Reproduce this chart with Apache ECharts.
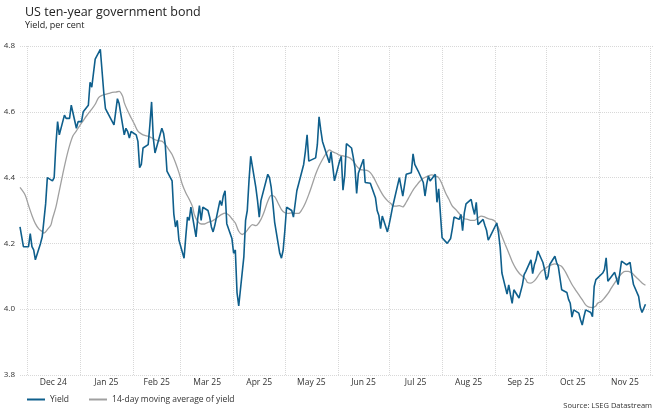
<!DOCTYPE html>
<html lang="en">
<head>
<meta charset="UTF-8">
<title>US ten-year government bond</title>
<script src="https://cdn.jsdelivr.net/npm/echarts@6/dist/echarts.min.js"></script>
<style>
  html, body { margin: 0; padding: 0; background: #fff; }
  #main { width: 660px; height: 413px; }
</style>
</head>
<body>
<div id="main"></div>
<script>
// daily yield, per cent
var yieldDates = [
  '2024-11-27','2024-11-29',
  '2024-12-02','2024-12-03','2024-12-04','2024-12-05','2024-12-06','2024-12-09','2024-12-10','2024-12-11','2024-12-12','2024-12-13',
  '2024-12-16','2024-12-17','2024-12-18','2024-12-19','2024-12-20','2024-12-23','2024-12-24','2024-12-26','2024-12-27','2024-12-30','2024-12-31',
  '2025-01-02','2025-01-03','2025-01-06','2025-01-07','2025-01-08','2025-01-10','2025-01-13','2025-01-14','2025-01-15','2025-01-16','2025-01-17',
  '2025-01-21','2025-01-22','2025-01-23','2025-01-24','2025-01-27','2025-01-28','2025-01-29','2025-01-30','2025-01-31',
  '2025-02-03','2025-02-04','2025-02-05','2025-02-06','2025-02-07','2025-02-10','2025-02-11','2025-02-12','2025-02-13','2025-02-14',
  '2025-02-18','2025-02-19','2025-02-20','2025-02-21','2025-02-24','2025-02-25','2025-02-26','2025-02-27','2025-02-28',
  '2025-03-03','2025-03-04','2025-03-05','2025-03-06','2025-03-07','2025-03-10','2025-03-11','2025-03-12','2025-03-13','2025-03-14',
  '2025-03-17','2025-03-18','2025-03-19','2025-03-20','2025-03-21','2025-03-24','2025-03-25','2025-03-26','2025-03-27','2025-03-28','2025-03-31',
  '2025-04-01','2025-04-02','2025-04-03','2025-04-04','2025-04-07','2025-04-08','2025-04-09','2025-04-10','2025-04-11',
  '2025-04-14','2025-04-15','2025-04-16','2025-04-17','2025-04-21','2025-04-22','2025-04-23','2025-04-24','2025-04-25',
  '2025-04-28','2025-04-29','2025-04-30','2025-05-01','2025-05-02','2025-05-05','2025-05-06','2025-05-07','2025-05-08','2025-05-09',
  '2025-05-12','2025-05-13','2025-05-14','2025-05-15','2025-05-16','2025-05-19','2025-05-20','2025-05-21','2025-05-22','2025-05-23',
  '2025-05-27','2025-05-28','2025-05-29','2025-05-30','2025-06-02','2025-06-03','2025-06-04','2025-06-05','2025-06-06',
  '2025-06-09','2025-06-10','2025-06-11','2025-06-12','2025-06-13','2025-06-16','2025-06-17','2025-06-18','2025-06-20',
  '2025-06-23','2025-06-24','2025-06-25','2025-06-26','2025-06-27','2025-06-30','2025-07-01','2025-07-02','2025-07-03',
  '2025-07-07','2025-07-08','2025-07-09','2025-07-10','2025-07-11','2025-07-14','2025-07-15','2025-07-16','2025-07-17','2025-07-18',
  '2025-07-21','2025-07-22','2025-07-23','2025-07-24','2025-07-25','2025-07-28','2025-07-29','2025-07-30','2025-07-31',
  '2025-08-01','2025-08-04','2025-08-05','2025-08-06','2025-08-07','2025-08-08','2025-08-11','2025-08-12','2025-08-13','2025-08-14','2025-08-15',
  '2025-08-18','2025-08-19','2025-08-20','2025-08-21','2025-08-22','2025-08-25','2025-08-26','2025-08-27','2025-08-28','2025-08-29',
  '2025-09-02','2025-09-03','2025-09-04','2025-09-05','2025-09-08','2025-09-09','2025-09-10','2025-09-11','2025-09-12',
  '2025-09-15','2025-09-16','2025-09-17','2025-09-18','2025-09-19','2025-09-22','2025-09-23','2025-09-24','2025-09-25','2025-09-26',
  '2025-09-29','2025-09-30','2025-10-01','2025-10-02','2025-10-03','2025-10-06','2025-10-07','2025-10-08','2025-10-09','2025-10-10',
  '2025-10-13','2025-10-14','2025-10-15','2025-10-16','2025-10-17','2025-10-20','2025-10-21','2025-10-22','2025-10-23','2025-10-24',
  '2025-10-27','2025-10-28','2025-10-29','2025-10-30','2025-10-31','2025-11-03','2025-11-04','2025-11-05','2025-11-06','2025-11-07',
  '2025-11-10','2025-11-11','2025-11-12','2025-11-13','2025-11-14','2025-11-17','2025-11-18','2025-11-19','2025-11-20','2025-11-21',
  '2025-11-24','2025-11-25','2025-11-26','2025-11-27','2025-11-28'
];
var yieldValues = [
  4.25, 4.19,
  4.19, 4.23, 4.19, 4.18, 4.15, 4.20, 4.22, 4.27, 4.32, 4.40,
  4.39, 4.40, 4.50, 4.57, 4.53, 4.59, 4.58, 4.58, 4.62, 4.55, 4.57,
  4.57, 4.60, 4.62, 4.69, 4.675, 4.76, 4.79, 4.79, 4.66, 4.61, 4.61,
  4.56, 4.60, 4.64, 4.625, 4.53, 4.55, 4.54, 4.52, 4.54,
  4.53, 4.51, 4.43, 4.44, 4.49, 4.50, 4.56, 4.63, 4.52, 4.475,
  4.55, 4.535, 4.50, 4.42, 4.39, 4.29, 4.25, 4.27, 4.21,
  4.155, 4.22, 4.28, 4.27, 4.31, 4.22, 4.275, 4.315, 4.27, 4.31,
  4.30, 4.28, 4.25, 4.235, 4.255, 4.33, 4.315, 4.345, 4.36, 4.26, 4.215,
  4.17, 4.18, 4.05, 4.01, 4.16, 4.27, 4.30, 4.39, 4.465,
  4.37, 4.33, 4.28, 4.33, 4.41, 4.40, 4.37, 4.32, 4.265,
  4.17, 4.155, 4.18, 4.24, 4.31, 4.30, 4.28, 4.275, 4.36, 4.38,
  4.44, 4.48, 4.53, 4.45, 4.445, 4.46, 4.50, 4.585, 4.545, 4.51,
  4.445, 4.478, 4.435, 4.39, 4.45, 4.465, 4.362, 4.405, 4.503,
  4.49, 4.462, 4.43, 4.352, 4.413, 4.456, 4.385, 4.385, 4.383,
  4.339, 4.30, 4.285, 4.245, 4.283, 4.235, 4.257, 4.283, 4.31,
  4.40, 4.405, 4.344, 4.34, 4.41, 4.415, 4.472, 4.44, 4.443, 4.42,
  4.385, 4.344, 4.38, 4.405, 4.39, 4.41, 4.325, 4.366, 4.36,
  4.217, 4.20, 4.20, 4.215, 4.245, 4.28, 4.273, 4.288, 4.239, 4.293, 4.32,
  4.334, 4.308, 4.288, 4.325, 4.257, 4.273, 4.255, 4.24, 4.21, 4.22,
  4.262, 4.232, 4.186, 4.11, 4.046, 4.074, 4.044, 4.018, 4.059,
  4.034, 4.034, 4.074, 4.105, 4.115, 4.15, 4.108, 4.135, 4.15, 4.177,
  4.142, 4.12, 4.09, 4.10, 4.136, 4.161, 4.142, 4.13, 4.136, 4.059,
  4.051, 4.03, 4.018, 3.976, 3.998, 3.988, 3.968, 3.952, 3.977, 3.998,
  3.99, 3.977, 4.069, 4.09, 4.095, 4.11, 4.12, 4.156, 4.085, 4.09,
  4.112, 4.112, 4.075, 4.11, 4.146, 4.135, 4.13, 4.142, 4.105, 4.075,
  4.039, 4.005, 3.99, 3.99, 4.015
];

// 14-day moving average of yield
var maDates = [
  '2024-11-27','2024-11-30','2024-12-02','2024-12-04','2024-12-06','2024-12-08','2024-12-10','2024-12-11','2024-12-13','2024-12-15',
  '2024-12-16','2024-12-18','2024-12-20','2024-12-22','2024-12-24','2024-12-26','2024-12-28','2024-12-30','2025-01-01','2025-01-03',
  '2025-01-05','2025-01-08','2025-01-10','2025-01-12','2025-01-14','2025-01-16','2025-01-18','2025-01-20','2025-01-22','2025-01-24',
  '2025-01-26','2025-01-27','2025-01-29','2025-01-31','2025-02-02','2025-02-04','2025-02-06','2025-02-08','2025-02-10','2025-02-12',
  '2025-02-14','2025-02-16','2025-02-18','2025-02-20','2025-02-22','2025-02-24','2025-02-26','2025-02-28','2025-03-02','2025-03-04',
  '2025-03-06','2025-03-08','2025-03-09','2025-03-11','2025-03-13','2025-03-15','2025-03-17','2025-03-19','2025-03-21','2025-03-23',
  '2025-03-25','2025-03-27','2025-03-29','2025-03-31','2025-04-02','2025-04-04','2025-04-06','2025-04-08','2025-04-10','2025-04-12',
  '2025-04-14','2025-04-15','2025-04-17','2025-04-19','2025-04-21','2025-04-23','2025-04-25','2025-04-27','2025-04-29','2025-05-01',
  '2025-05-03','2025-05-05','2025-05-07','2025-05-09','2025-05-11','2025-05-13','2025-05-15','2025-05-17','2025-05-19','2025-05-21',
  '2025-05-23','2025-05-25','2025-05-27','2025-05-29','2025-05-31','2025-06-02','2025-06-04','2025-06-06','2025-06-08','2025-06-10',
  '2025-06-12','2025-06-14','2025-06-16','2025-06-18','2025-06-20','2025-06-22','2025-06-24','2025-06-26','2025-06-28','2025-06-30',
  '2025-07-02','2025-07-03','2025-07-05','2025-07-07','2025-07-09','2025-07-11','2025-07-13','2025-07-15','2025-07-17','2025-07-19',
  '2025-07-21','2025-07-23','2025-07-26','2025-07-28','2025-07-30','2025-08-01','2025-08-03','2025-08-05','2025-08-07','2025-08-09',
  '2025-08-11','2025-08-13','2025-08-14','2025-08-16','2025-08-18','2025-08-20','2025-08-22','2025-08-24','2025-08-26','2025-08-28',
  '2025-08-30','2025-09-01','2025-09-03','2025-09-05','2025-09-07','2025-09-09','2025-09-11','2025-09-13','2025-09-15','2025-09-17',
  '2025-09-19','2025-09-20','2025-09-22','2025-09-24','2025-09-26','2025-09-28','2025-09-30','2025-10-02','2025-10-04','2025-10-06',
  '2025-10-08','2025-10-10','2025-10-12','2025-10-14','2025-10-16','2025-10-18','2025-10-20','2025-10-22','2025-10-24','2025-10-26',
  '2025-10-28','2025-10-30','2025-10-31','2025-11-02','2025-11-04','2025-11-06','2025-11-08','2025-11-10','2025-11-12','2025-11-14',
  '2025-11-16','2025-11-18','2025-11-20','2025-11-22','2025-11-24','2025-11-26','2025-11-28'
];
var maValues = [
  4.37, 4.347, 4.315, 4.285, 4.26, 4.244, 4.236, 4.231, 4.242, 4.255,
  4.275, 4.31, 4.36, 4.41, 4.457, 4.497, 4.527, 4.542, 4.558, 4.573,
  4.588, 4.608, 4.623, 4.643, 4.65, 4.653, 4.656, 4.659, 4.66, 4.662,
  4.648, 4.628, 4.603, 4.582, 4.562, 4.541, 4.533, 4.528, 4.526, 4.521,
  4.515, 4.512, 4.511, 4.501, 4.486, 4.47, 4.445, 4.415, 4.379, 4.354,
  4.334, 4.311, 4.288, 4.267, 4.259, 4.259, 4.264, 4.267, 4.273, 4.281,
  4.288, 4.292, 4.287, 4.275, 4.262, 4.237, 4.227, 4.234, 4.247, 4.257,
  4.254, 4.257, 4.273, 4.298, 4.328, 4.346, 4.342, 4.323, 4.303, 4.293,
  4.291, 4.293, 4.291, 4.291, 4.303, 4.323, 4.349, 4.379, 4.41, 4.435,
  4.455, 4.472, 4.484, 4.478, 4.474, 4.468, 4.466, 4.464, 4.46, 4.45,
  4.435, 4.425, 4.423, 4.422, 4.415, 4.40, 4.379, 4.359, 4.342, 4.33,
  4.321, 4.315, 4.313, 4.315, 4.311, 4.325, 4.344, 4.362, 4.376, 4.389,
  4.398, 4.403, 4.408, 4.405, 4.40, 4.38, 4.354, 4.334, 4.313, 4.303,
  4.291, 4.28, 4.275, 4.273, 4.27, 4.27, 4.278, 4.283, 4.28, 4.275,
  4.273, 4.267, 4.247, 4.222, 4.196, 4.171, 4.145, 4.125, 4.11, 4.10,
  4.09, 4.081, 4.079, 4.086, 4.10, 4.115, 4.122, 4.13, 4.135, 4.138,
  4.135, 4.13, 4.115, 4.095, 4.075, 4.059, 4.044, 4.029, 4.013, 4.006,
  4.005, 4.01, 4.018, 4.023, 4.034, 4.047, 4.064, 4.08, 4.095, 4.108,
  4.115, 4.115, 4.11, 4.10, 4.09, 4.08, 4.073
];

// month boundaries (grid lines) and the labels that sit in the middle of each month
var monthStarts = [
  '2024-12-01','2025-01-01','2025-02-01','2025-03-01','2025-04-01','2025-05-01','2025-06-01',
  '2025-07-01','2025-08-01','2025-09-01','2025-10-01','2025-11-01','2025-12-01'
];
var monthLabels = ['Dec 24','Jan 25','Feb 25','Mar 25','Apr 25','May 25','Jun 25',
  'Jul 25','Aug 25','Sep 25','Oct 25','Nov 25'];
var yTicks = [3.8, 4.0, 4.2, 4.4, 4.6, 4.8];
var xStart = '2024-11-27';
var xEnd = '2025-12-03';

var font = "'Open Sans', 'Noto Sans', sans-serif";
var ts = function (s) { return echarts.time.parse(s).getTime(); };

var startTs = monthStarts.map(ts);
var midTs = [];
for (var i = 0; i < monthLabels.length; i++) {
  midTs.push((startTs[i] + startTs[i + 1]) / 2);
}

var yieldData = yieldDates.map(function (d, i) { return [ts(d), yieldValues[i]]; });
var maData = maDates.map(function (d, i) { return [ts(d), maValues[i]]; });

var myChart = echarts.init(document.getElementById('main'));
var option = {
  animation: false,
  backgroundColor: '#fff',
  textStyle: { fontFamily: font },
  title: {
    text: 'US ten-year government bond',
    subtext: 'Yield, per cent',
    left: 20,
    top: 1,
    itemGap: 2,
    textStyle: { fontFamily: font, fontSize: 12.5, fontWeight: 'normal', color: '#222' },
    subtextStyle: { fontFamily: font, fontSize: 9, color: '#222' }
  },
  legend: {
    left: 22,
    top: 390,
    icon: 'rect',
    itemWidth: 18,
    itemHeight: 2,
    itemGap: 20,
    textStyle: { fontFamily: font, fontSize: 8.5, color: '#333' },
    data: ['Yield', '14-day moving average of yield']
  },
  graphic: [{
    type: 'text',
    right: 8,
    top: 402,
    style: { text: 'Source: LSEG Datastream', fontFamily: font, fontSize: 7.5, fill: '#333' }
  }],
  grid: { left: 20, right: 6, top: 46, bottom: 38, containLabel: false },
  xAxis: {
    type: 'value',
    min: ts(xStart),
    max: ts(xEnd),
    axisLine: { show: false },
    axisTick: { show: false, customValues: startTs },
    splitLine: { show: true, lineStyle: { type: 'dotted', color: '#d8d8d8', width: 1 } },
    axisLabel: {
      customValues: midTs,
      margin: 3,
      fontFamily: font,
      fontSize: 8.5,
      color: '#333',
      formatter: function (v) {
        var best = 0;
        for (var k = 0; k < midTs.length; k++) {
          if (Math.abs(midTs[k] - v) < Math.abs(midTs[best] - v)) best = k;
        }
        return monthLabels[best];
      }
    }
  },
  yAxis: {
    type: 'value',
    min: yTicks[0],
    max: yTicks[yTicks.length - 1],
    interval: 0.2,
    axisLine: { show: false },
    axisTick: { show: false },
    splitLine: { lineStyle: { type: 'dotted', color: '#d8d8d8', width: 1 } },
    axisLabel: {
      margin: 5,
      fontFamily: font,
      fontSize: 8,
      color: '#333',
      formatter: function (v) { return v.toFixed(1); }
    }
  },
  series: [
    {
      name: 'Yield',
      type: 'line',
      showSymbol: false,
      symbol: 'none',
      lineStyle: { color: '#0f5f8c', width: 1.6 },
      itemStyle: { color: '#0f5f8c' },
      z: 3,
      data: yieldData
    },
    {
      name: '14-day moving average of yield',
      type: 'line',
      showSymbol: false,
      symbol: 'none',
      smooth: 0.3,
      lineStyle: { color: '#a0a0a0', width: 1.3 },
      itemStyle: { color: '#a0a0a0' },
      z: 2,
      data: maData
    }
  ]
};
myChart.setOption(option);
window.addEventListener('resize', function () { myChart.resize(); });
</script>
</body>
</html>
